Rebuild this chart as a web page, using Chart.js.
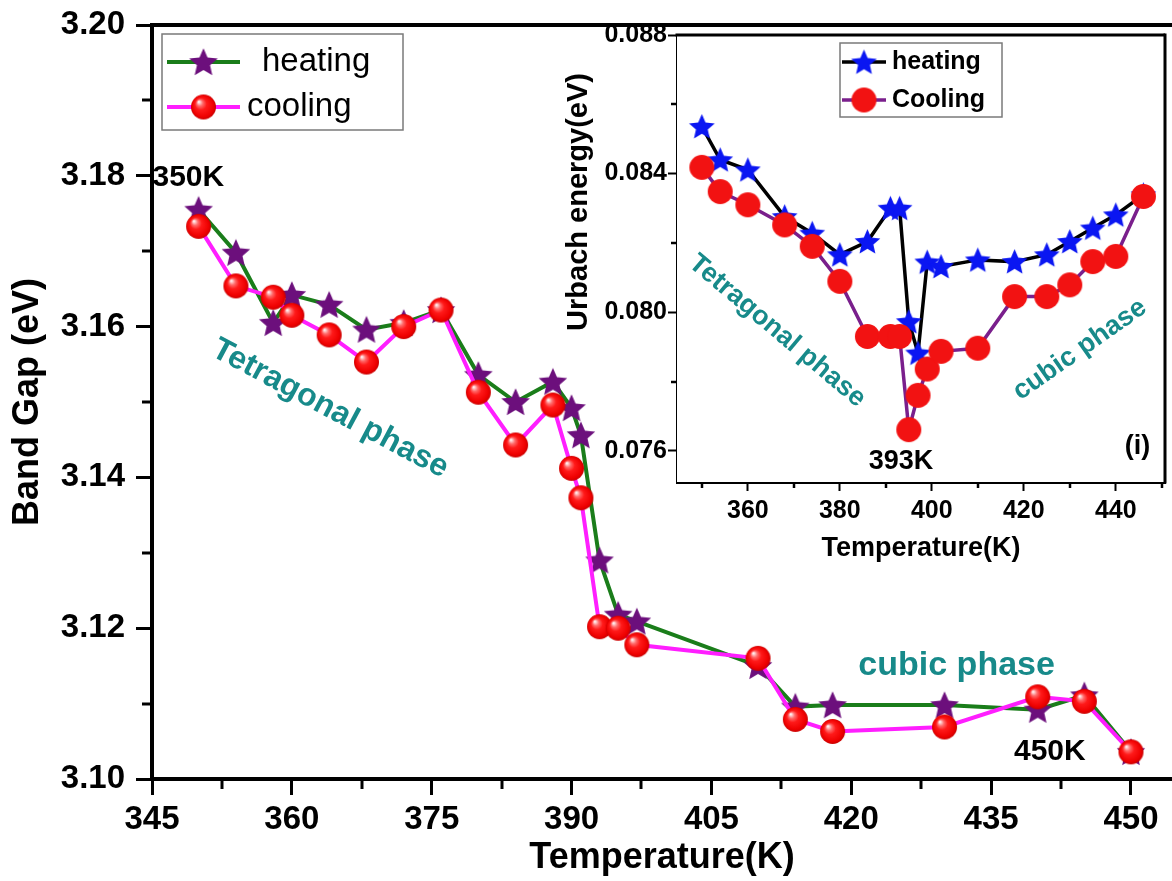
<!DOCTYPE html>
<html>
<head>
<meta charset="utf-8">
<script src="https://cdn.jsdelivr.net/npm/chart.js@4.4.1/dist/chart.umd.min.js"></script>
<style>
  html, body { margin: 0; padding: 0; background: #fff; }
  #wrap { position: relative; width: 1172px; height: 881px; }
  #mainChart { position: absolute; left: 0; top: 0; }
  #insetChart { position: absolute; left: 560px; top: 20px; }
</style>
</head>
<body>
<div id="wrap">
  <canvas id="mainChart" width="1172" height="881"></canvas>
  <canvas id="insetChart" width="612" height="560"></canvas>
</div>
<script>
// main plot: band gap vs temperature
const temps = [350, 354, 358, 360, 364, 368, 372, 376, 380, 384, 388, 390, 391, 393, 395, 397, 410, 414, 418, 430, 440, 445, 450];
const gapHeating = [3.1755, 3.1698, 3.1605, 3.1642, 3.1629, 3.1596, 3.1605, 3.1622, 3.1536, 3.1500, 3.1527, 3.1492, 3.1456, 3.1290, 3.1218, 3.1209, 3.1150, 3.1096, 3.1098, 3.1098, 3.1092, 3.1111, 3.1036];
const gapCooling = [3.1733, 3.1654, 3.1639, 3.1615, 3.1589, 3.1553, 3.1600, 3.1622, 3.1513, 3.1443, 3.1496, 3.1412, 3.1373, 3.1202, 3.1200, 3.1178, 3.1160, 3.1079, 3.1063, 3.1069, 3.1109, 3.1103, 3.1036];
const tempTicks = [345, 360, 375, 390, 405, 420, 435, 450];
const gapTicks = [3.10, 3.12, 3.14, 3.16, 3.18, 3.20];

// inset: Urbach energy
const insetTemps = [350, 354, 360, 368, 374, 380, 386, 391, 393, 395, 397, 399, 402, 410, 418, 425, 430, 435, 440, 446];
const urbachHeating = [0.08536, 0.08440, 0.08411, 0.08276, 0.08228, 0.08166, 0.08204, 0.08300, 0.08300, 0.07973, 0.07882, 0.08145, 0.08132, 0.08151, 0.08146, 0.08166, 0.08204, 0.08243, 0.08281, 0.08339];
const urbachCooling = [0.08418, 0.08348, 0.08310, 0.08252, 0.08190, 0.08089, 0.07930, 0.07930, 0.07930, 0.07661, 0.07760, 0.07836, 0.07887, 0.07896, 0.08045, 0.08045, 0.08079, 0.08146, 0.08161, 0.08334];
const insetTempTicks = [360, 380, 400, 420, 440];
const urbachTicks = [0.076, 0.080, 0.084, 0.088];

const FONT = "'Liberation Sans', Arial, sans-serif";
const TEAL = '#178a8a';

// marker images
function starImage(r, fill) {
  const s = Math.ceil(2 * r + 2), c = document.createElement('canvas');
  c.width = c.height = s;
  const g = c.getContext('2d');
  g.translate(s / 2, s / 2 + r * 0.08);
  g.beginPath();
  for (let i = 0; i < 10; i++) {
    const rr = i % 2 ? r * 0.46 : r;
    const a = -Math.PI / 2 + i * Math.PI / 5;
    g.lineTo(rr * Math.cos(a), rr * Math.sin(a));
  }
  g.closePath();
  g.fillStyle = fill;
  g.fill();
  return c;
}
function ballImage(r, shaded) {
  const s = Math.ceil(2 * r + 2), c = document.createElement('canvas');
  c.width = c.height = s;
  const g = c.getContext('2d'), m = s / 2;
  if (shaded) {
    const gr = g.createRadialGradient(m - r * 0.38, m - r * 0.42, r * 0.04, m, m, r);
    gr.addColorStop(0, '#fff4f4');
    gr.addColorStop(0.22, '#ff6a6a');
    gr.addColorStop(0.45, '#ff1a1a');
    gr.addColorStop(0.85, '#ee0000');
    gr.addColorStop(1, '#c80000');
    g.fillStyle = gr;
  } else {
    g.fillStyle = '#f21212';
  }
  g.beginPath();
  g.arc(m, m, r, 0, Math.PI * 2);
  g.fill();
  return c;
}
const starMain = starImage(15, '#6c0f7c');
const ballMain = ballImage(12.5, true);
const starInset = starImage(13.5, '#0a16f2');
const ballInset = ballImage(12.5, false);

function pts(xs, ys) { return xs.map((x, i) => ({ x: x, y: ys[i] })); }
function setTicks(list) { return s => { s.ticks = list.map(v => ({ value: v })); }; }
function minorOf(list, min, max) {
  const out = [];
  const step = list[1] - list[0];
  if (list[0] - step / 2 >= min) out.push(list[0] - step / 2);
  for (let i = 0; i < list.length - 1; i++) out.push((list[i] + list[i + 1]) / 2);
  if (list[list.length - 1] + step / 2 <= max) out.push(list[list.length - 1] + step / 2);
  return out;
}
function text(ctx, s, x, y, size, color, rot, weight) {
  ctx.save();
  ctx.translate(x, y);
  ctx.rotate((rot || 0) * Math.PI / 180);
  ctx.font = (weight || 'bold') + ' ' + size + 'px ' + FONT;
  ctx.fillStyle = color;
  ctx.textAlign = 'center';
  ctx.textBaseline = 'middle';
  ctx.fillText(s, 0, 0);
  ctx.restore();
}
function line(ctx, x0, y0, x1, y1) {
  ctx.beginPath(); ctx.moveTo(x0, y0); ctx.lineTo(x1, y1); ctx.stroke();
}
function drawLegend(ctx, chart, box, rows) {
  ctx.save();
  ctx.fillStyle = '#fff';
  ctx.fillRect(box.x, box.y, box.w, box.h);
  ctx.strokeStyle = '#7a7a7a';
  ctx.lineWidth = 1.5;
  ctx.strokeRect(box.x, box.y, box.w, box.h);
  rows.forEach(r => {
    const ds = chart.data.datasets[r.index];
    ctx.strokeStyle = ds.borderColor;
    ctx.lineWidth = ds.borderWidth;
    line(ctx, r.x0, r.y, r.x1, r.y);
    const img = ds.pointStyle;
    ctx.drawImage(img, (r.x0 + r.x1) / 2 - img.width / 2, r.y - img.height / 2);
    ctx.font = r.weight + ' ' + r.size + 'px ' + FONT;
    ctx.fillStyle = '#000';
    ctx.textAlign = 'left';
    ctx.textBaseline = 'middle';
    ctx.fillText(ds.label, r.tx, r.y);
  });
  ctx.restore();
}

const mainDecor = {
  id: 'mainDecor',
  afterDraw(chart) {
    const { ctx, chartArea: a, scales: { x, y } } = chart;
    ctx.save();
    ctx.strokeStyle = '#000';
    ctx.lineWidth = 4;
    line(ctx, a.left - 2, a.top, a.right, a.top);
    ctx.lineWidth = 3;
    minorOf(tempTicks, x.min, x.max).forEach(v => {
      const px = Math.round(x.getPixelForValue(v));
      line(ctx, px, a.bottom, px, a.bottom + 10);
    });
    minorOf(gapTicks, y.min, y.max).forEach(v => {
      const py = Math.round(y.getPixelForValue(v));
      line(ctx, a.left, py, a.left - 10, py);
    });
    ctx.restore();
    const P = (vx, vy) => [x.getPixelForValue(vx), y.getPixelForValue(vy)];
    let p;
    p = P(348.9, 3.1797); text(ctx, '350K', p[0], p[1], 30, '#000');
    p = P(364.1, 3.1491); text(ctx, 'Tetragonal phase', p[0], p[1], 32, TEAL, 28);
    p = P(431.3, 3.1150); text(ctx, 'cubic phase', p[0], p[1], 34, TEAL);
    p = P(441.3, 3.1036); text(ctx, '450K', p[0], p[1], 30, '#000');
    drawLegend(ctx, chart, { x: 162, y: 34, w: 241, h: 96 }, [
      { index: 0, x0: 167, x1: 240, y: 62, tx: 262, size: 33, weight: 'normal' },
      { index: 1, x0: 167, x1: 240, y: 107, tx: 247, size: 33, weight: 'normal' }
    ]);
  }
};

const insetDecor = {
  id: 'insetDecor',
  beforeDatasetsDraw(chart) {
    const { ctx, chartArea: a } = chart;
    ctx.save();
    ctx.fillStyle = '#fff';
    ctx.fillRect(a.left, a.top, a.right - a.left, a.bottom - a.top);
    ctx.restore();
  },
  afterDraw(chart) {
    const { ctx, chartArea: a, scales: { x, y } } = chart;
    ctx.save();
    ctx.strokeStyle = '#000';
    ctx.lineWidth = 3;
    line(ctx, a.left - 1.5, a.top, a.right, a.top);
    line(ctx, a.right, a.top - 1.5, a.right, a.bottom + 1.5);
    ctx.lineWidth = 2.5;
    minorOf(insetTempTicks, x.min, x.max).forEach(v => {
      const px = Math.round(x.getPixelForValue(v));
      line(ctx, px, a.bottom, px, a.bottom + 6);
    });
    minorOf(urbachTicks, y.min, y.max).forEach(v => {
      const py = Math.round(y.getPixelForValue(v));
      line(ctx, a.left, py, a.left - 6, py);
    });
    ctx.restore();
    text(ctx, 'Urbach energy(eV)', 19, 182, 29, '#000', -90);
    const P = (vx, vy) => [x.getPixelForValue(vx), y.getPixelForValue(vy)];
    let p;
    p = P(366.4, 0.07946); text(ctx, 'Tetragonal phase', p[0], p[1], 27, TEAL, 40);
    p = P(432.2, 0.07892); text(ctx, 'cubic phase', p[0], p[1], 27, TEAL, -35);
    p = P(393.3, 0.07569); text(ctx, '393K', p[0], p[1], 27, '#000');
    p = P(444.7, 0.07612); text(ctx, '(i)', p[0], p[1], 27, '#000');
    drawLegend(ctx, chart, { x: 280, y: 23, w: 162, h: 74 }, [
      { index: 0, x0: 282, x1: 326, y: 42, tx: 332, size: 25, weight: 'bold' },
      { index: 1, x0: 282, x1: 326, y: 80, tx: 332, size: 25, weight: 'bold' }
    ]);
  }
};

function axisOpts(o) {
  return {
    type: 'linear',
    min: o.min, max: o.max,
    afterBuildTicks: setTicks(o.ticks),
    afterFit: s => {
      o.fit(s);
      // the plot box is set by the layout padding, not by label overhang
      s.paddingTop = 0; s.paddingBottom = 0; s.paddingLeft = 0; s.paddingRight = 0;
    },
    border: { display: true, color: '#000', width: o.border },
    grid: { drawOnChartArea: false, drawTicks: true, tickLength: o.tickLength, tickWidth: o.border - 1, tickColor: '#000' },
    ticks: { color: '#000', padding: o.padding, autoSkip: false, maxRotation: 0, font: { family: FONT, size: o.size, weight: 'bold' }, callback: o.fmt },
    title: o.title ? { display: true, text: o.title, color: '#000', font: { family: FONT, size: o.titleSize, weight: 'bold' }, padding: o.titlePad } : { display: false }
  };
}

new Chart(document.getElementById('mainChart'), {
  type: 'line',
  data: {
    datasets: [
      { label: 'heating', data: pts(temps, gapHeating), borderColor: '#1a7d1a', borderWidth: 4, pointStyle: starMain, pointRadius: 14, order: 2 },
      { label: 'cooling', data: pts(temps, gapCooling), borderColor: '#ff1eff', borderWidth: 4, pointStyle: ballMain, pointRadius: 13, order: 1 }
    ]
  },
  options: {
    responsive: false,
    animation: false,
    devicePixelRatio: 1,
    layout: { autoPadding: false, padding: { left: 0, top: 25, right: 0, bottom: 0 } },
    plugins: { legend: { display: false }, tooltip: { enabled: false } },
    scales: {
      x: axisOpts({ min: 345, max: 454.4, ticks: tempTicks, fit: s => { s.height = 102; }, border: 4, tickLength: 16, padding: 5, size: 33, fmt: v => String(v), title: 'Temperature(K)', titleSize: 36, titlePad: { top: 0, bottom: 1 } }),
      y: axisOpts({ min: 3.10, max: 3.20, ticks: gapTicks, fit: s => { s.width = 152; }, border: 4, tickLength: 16, padding: 11, size: 33, fmt: v => v.toFixed(2), title: 'Band Gap (eV)', titleSize: 36, titlePad: { top: 6, bottom: 0 } })
    }
  },
  plugins: [mainDecor]
});

new Chart(document.getElementById('insetChart'), {
  type: 'line',
  data: {
    datasets: [
      { label: 'heating', data: pts(insetTemps, urbachHeating), borderColor: '#000', borderWidth: 3.5, pointStyle: starInset, pointRadius: 13, order: 2 },
      { label: 'Cooling', data: pts(insetTemps, urbachCooling), borderColor: '#7a1f8c', borderWidth: 3.5, pointStyle: ballInset, pointRadius: 13, order: 1 }
    ]
  },
  options: {
    responsive: false,
    animation: false,
    devicePixelRatio: 1,
    layout: { autoPadding: false, padding: { left: 0, top: 15, right: 7, bottom: 0 } },
    plugins: { legend: { display: false }, tooltip: { enabled: false } },
    scales: {
      x: axisOpts({ min: 344.6, max: 450.7, ticks: insetTempTicks, fit: s => { s.height = 98; }, border: 3, tickLength: 9, padding: 5, size: 25, fmt: v => String(v), title: 'Temperature(K)', titleSize: 27, titlePad: { top: 0, bottom: 15 } }),
      y: axisOpts({ min: 0.0751, max: 0.088, ticks: urbachTicks, fit: s => { s.width = 117; }, border: 3, tickLength: 9, padding: 1, size: 25, fmt: v => v.toFixed(3) })
    }
  },
  plugins: [insetDecor]
});
</script>
</body>
</html>
